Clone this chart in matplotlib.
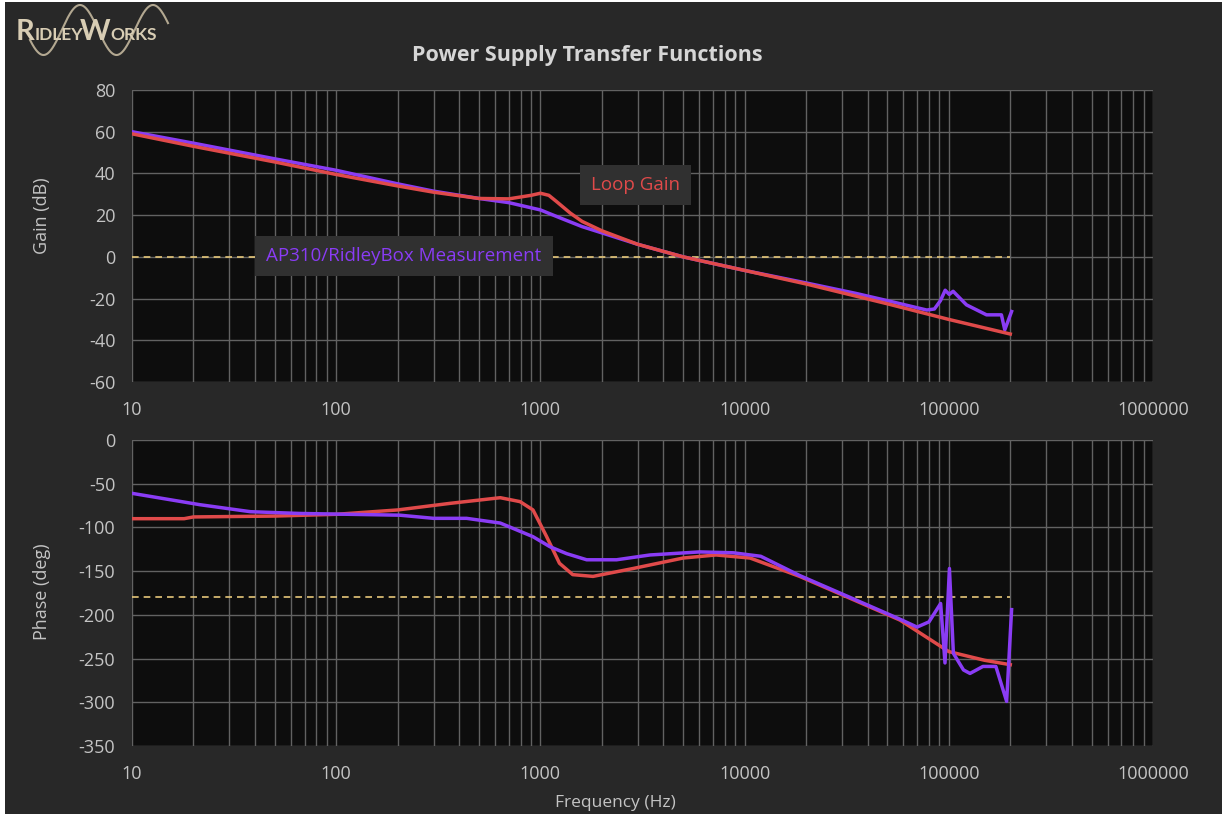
import numpy as np
import matplotlib
matplotlib.use("Agg")
import matplotlib.pyplot as plt
from matplotlib.patches import Rectangle
from matplotlib.ticker import LogLocator, FixedLocator, FuncFormatter

plt.rcParams['font.family'] = ['Open Sans', 'DejaVu Sans']

# ---------------- data ----------------
gain_loop_f = [10, 20, 50, 100, 200, 300, 500, 700, 900, 1000, 1100, 1200, 1400, 1600, 2000,
               3000, 5000, 10000, 20000, 50000, 100000, 200000]
gain_loop_db = [59, 53, 45.5, 39.5, 34, 31, 28, 27.8, 29.5, 30.5, 29.5, 26.5, 21, 17, 12.5,
                6, 0, -6.5, -13, -22.5, -30, -37]

gain_meas_f = [10, 20, 50, 100, 200, 300, 500, 700, 1000, 1300, 1600, 2000, 3000, 5000,
               10000, 20000, 35000, 50000, 78000, 85000, 91000, 96000, 100500, 105000,
               122000, 153000, 181000, 188000, 203000]
gain_meas_db = [60, 54.5, 47, 41.5, 35, 31.5, 28, 26, 22.5, 18, 14.5, 11.5, 6, 0,
                -6.5, -12.5, -17.5, -21, -25.5, -25, -21, -16, -18, -16.5,
                -23, -27.8, -27.8, -35, -26.2]

phase_loop_f = [10, 18, 20, 50, 100, 200, 360, 636, 795, 920, 1070, 1240, 1440, 1810,
                2840, 5000, 7250, 10640, 18600, 32800, 57700, 100000, 150000, 200000]
phase_loop_deg = [-90, -90, -88, -87, -85, -80, -72.5, -66, -70.5, -80, -110, -141, -154, -156,
                  -147, -135, -131.5, -135, -156, -181, -206, -242, -252, -257]

phase_meas_f = [10, 21.5, 38, 66, 205, 300, 435, 636, 920, 1112, 1345, 1685, 2360, 3440,
                6030, 8800, 12000, 18600, 32800, 57700, 69900, 80000, 91200, 95800,
                100700, 105300, 118000, 127000, 147000, 170000, 192000, 203000]
phase_meas_deg = [-61, -74, -82, -84, -86, -89.6, -89.6, -95, -110.6, -122, -130, -137, -137, -131.5,
                  -128, -129, -133, -155, -180, -205, -214, -208, -187, -255,
                  -147, -244, -263, -267, -259, -259, -299, -194]

x_ticks = [10, 100, 1000, 10000, 100000, 1000000]
gain_ticks = [80, 60, 40, 20, 0, -20, -40, -60]
phase_ticks = [0, -50, -100, -150, -200, -250, -300, -350]
ref_f = [10, 200000]
gain_ref = [0, 0]
phase_ref = [-180, -180]

# ---------------- style ----------------
FIG_BG = '#282828'
AX_BG = '#0d0d0d'
GRID = '#626262'
TXT = '#c4c4c4'
RED = '#e04a4a'
PURPLE = '#8a3cf5'
DASH = '#e6c77a'

fig = plt.figure(figsize=(12.22, 8.18), dpi=100, facecolor='white')
fig.patches.append(Rectangle((5/1222, 4/818), 1 - 5/1222, 1 - 6/818, transform=fig.transFigure,
                             facecolor=FIG_BG, edgecolor='none', zorder=-10))

L, R = 132/1222, 1153/1222
ax1 = fig.add_axes([L, 1 - 382/818, R - L, (382 - 90)/818])
ax2 = fig.add_axes([L, 1 - 746/818, R - L, (746 - 440)/818])


def style(ax, yticks, ylim):
    ax.set_facecolor(AX_BG)
    ax.set_xscale('log')
    ax.set_xlim(10, 1e6)
    ax.set_ylim(*ylim)
    ax.xaxis.set_major_locator(FixedLocator(x_ticks))
    ax.xaxis.set_minor_locator(LogLocator(base=10, subs=np.arange(2, 10)))
    ax.xaxis.set_major_formatter(FuncFormatter(lambda v, p: f"{int(round(v))}"))
    ax.yaxis.set_major_locator(FixedLocator(yticks))
    ax.yaxis.set_major_formatter(FuncFormatter(lambda v, p: f"{int(v)}"))
    ax.grid(True, which='both', axis='x', color=GRID, lw=1.0)
    ax.grid(True, which='major', axis='y', color=GRID, lw=1.0)
    ax.tick_params(which='both', length=0, colors=TXT, labelsize=13)
    ax.tick_params(axis='x', pad=14)
    ax.tick_params(axis='y', pad=12)
    for s in ax.spines.values():
        s.set_visible(False)
    ax.set_axisbelow(True)


style(ax1, gain_ticks, (-60, 80))
style(ax2, phase_ticks, (-350, 0))

ax1.plot(ref_f, gain_ref, color=DASH, lw=1.2, ls=(0, (4, 3)), zorder=2)
ax1.plot(gain_meas_f, gain_meas_db, color=PURPLE, lw=2.5, zorder=3, solid_joinstyle='round')
ax1.plot(gain_loop_f, gain_loop_db, color=RED, lw=2.5, zorder=4, solid_joinstyle='round')

ax2.plot(ref_f, phase_ref, color=DASH, lw=1.2, ls=(0, (4, 3)), zorder=2)
ax2.plot(phase_loop_f, phase_loop_deg, color=RED, lw=2.5, zorder=3, solid_joinstyle='round')
ax2.plot(phase_meas_f, phase_meas_deg, color=PURPLE, lw=2.5, zorder=4, solid_joinstyle='round')

# annotation boxes
ax1.text((591 - 132)/1021, (382 - 185)/292, 'Loop Gain', transform=ax1.transAxes, color=RED,
         fontsize=13.5, va='center', ha='left',
         bbox=dict(boxstyle='square,pad=0.6', facecolor='#303030', edgecolor='none'), zorder=6)
ax1.text((266 - 132)/1021, (382 - 256)/292, 'AP310/RidleyBox Measurement', transform=ax1.transAxes,
         color=PURPLE, fontsize=13.5, va='center', ha='left',
         bbox=dict(boxstyle='square,pad=0.6', facecolor='#303030', edgecolor='none'), zorder=6)

# labels
fig.text(587/1222, 1 - 55/818, 'Power Supply Transfer Functions', color='#d6d6d6',
         fontsize=15.5, fontweight='bold', ha='center', va='center')
fig.text(42/1222, 1 - 216/818, 'Gain (dB)', color=TXT, fontsize=13, rotation=90,
         ha='center', va='center')
fig.text(42/1222, 1 - 592/818, 'Phase (deg)', color=TXT, fontsize=13, rotation=90,
         ha='center', va='center')
fig.text(615/1222, 1 - 803/818, 'Frequency (Hz)', color=TXT, fontsize=12.5,
         ha='center', va='center')

# logo
LOGO = '#d8cdb4'
lx = np.linspace(30, 168, 300)
ly = 30 - 25 * np.sin((lx - 80) / 73 * 2 * np.pi + np.pi / 2)
fig.lines.append(plt.Line2D(lx / 1222, 1 - ly / 818, transform=fig.transFigure,
                            color='#b3a891', lw=1.5, zorder=-5))
for txt, x, fs in [('R', 16, 21), ('IDLEY', 35, 12.5), ('W', 80, 21), ('ORKS', 110, 12.5)]:
    fig.text(x/1222, 1 - 40/818, txt, color=LOGO, fontsize=fs, fontweight='bold',
             ha='left', va='baseline', family=['Lato', 'DejaVu Sans'])

fig.savefig('out.png', dpi=100, facecolor=fig.get_facecolor())
